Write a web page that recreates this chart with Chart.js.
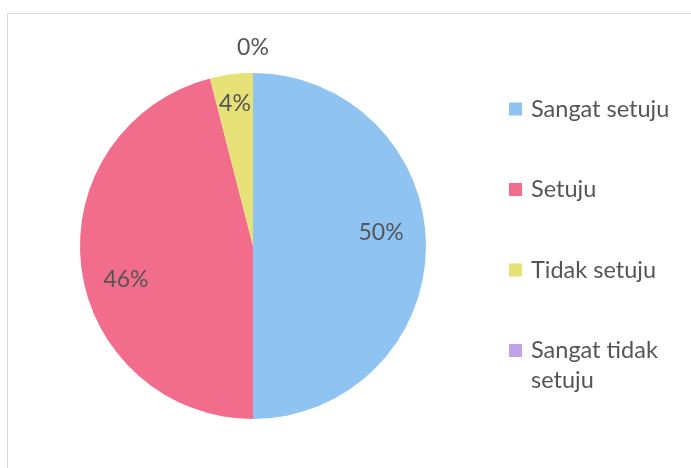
<!DOCTYPE html>
<html>
<head>
<meta charset="utf-8">
<script src="https://cdn.jsdelivr.net/npm/chart.js@4/dist/chart.umd.min.js"></script>
<style>
    html, body { margin: 0; padding: 0; background: #fff; }
    #wrap { position: relative; width: 691px; height: 468px; overflow: hidden; }
    #frame { position: absolute; left: 7px; top: 13px; width: 700px; height: 470px; border: 1px solid #dcd8da; box-sizing: border-box; }
    canvas { position: absolute; left: 0; top: 0; }
</style>
</head>
<body>
<div id="wrap">
    <div id="frame"></div>
    <canvas id="chartDisplay" width="691" height="468"></canvas>
</div>
<script>
"use strict";

// Chart data
var categories = ['Sangat setuju', 'Setuju', 'Tidak setuju', 'Sangat tidak setuju'];
var legendLines = [['Sangat setuju'], ['Setuju'], ['Tidak setuju'], ['Sangat tidak', 'setuju']];
var percentValues = [50, 46, 4, 0];
var sliceColours = ['#8fc4f2', '#f26c8c', '#e6e277', '#bfa2e8'];

var textColour = '#575457';
var fontFamily = 'Lato, "Open Sans", sans-serif';

// Percent labels drawn on each slice
var sliceLabels = {
    id: 'sliceLabels',
    afterDatasetsDraw: function (chart) {
        var ctx = chart.ctx;
        var meta = chart.getDatasetMeta(0);
        ctx.save();
        ctx.fillStyle = textColour;
        ctx.font = '23px ' + fontFamily;
        ctx.textAlign = 'center';
        ctx.textBaseline = 'middle';
        meta.data.forEach(function (arc, i) {
            var p = arc.getProps(['x', 'y', 'startAngle', 'endAngle', 'outerRadius'], true);
            var mid = (p.startAngle + p.endAngle) / 2;
            var value = chart.data.datasets[0].data[i];
            var r;
            if (value === 0)
                r = p.outerRadius + 25;      // empty slice: label outside
            else if (value < 10)
                r = p.outerRadius * 0.83;
            else
                r = p.outerRadius * 0.74;
            var x = p.x + Math.cos(mid) * r;
            var y = p.y + Math.sin(mid) * r;
            if (i === 0) y -= 13;
            if (i === 1) y += 18;
            ctx.fillText(Math.round(value) + '%', x, y);
        });
        ctx.restore();
    }
};

// Legend on the right with wrapped text
var sideLegend = {
    id: 'sideLegend',
    afterDraw: function (chart) {
        var ctx = chart.ctx;
        var left = 509, top = 109, step = 80.5, lineHeight = 30, box = 13;
        ctx.save();
        ctx.font = '23.5px ' + fontFamily;
        ctx.textBaseline = 'middle';
        ctx.textAlign = 'left';
        legendLines.forEach(function (lines, i) {
            var cy = top + i * step;
            ctx.fillStyle = sliceColours[i];
            ctx.fillRect(left, cy - box / 2, box, box);
            ctx.fillStyle = textColour;
            lines.forEach(function (line, j) {
                ctx.fillText(line, left + 22, cy + j * lineHeight);
            });
        });
        ctx.restore();
    }
};

var ctx1 = document.getElementById('chartDisplay').getContext('2d');
var chart1 = new Chart(ctx1, {
    type: 'pie',
    data: {
        labels: categories,
        datasets: [{
            data: percentValues,
            backgroundColor: sliceColours,
            borderWidth: 0
        }]
    },
    options: {
        responsive: false,
        animation: false,
        layout: { padding: { left: 80, right: 265, top: 73, bottom: 49 } },
        plugins: {
            legend: { display: false },
            tooltip: { enabled: false }
        }
    },
    plugins: [sliceLabels, sideLegend]
});
</script>
</body>
</html>
